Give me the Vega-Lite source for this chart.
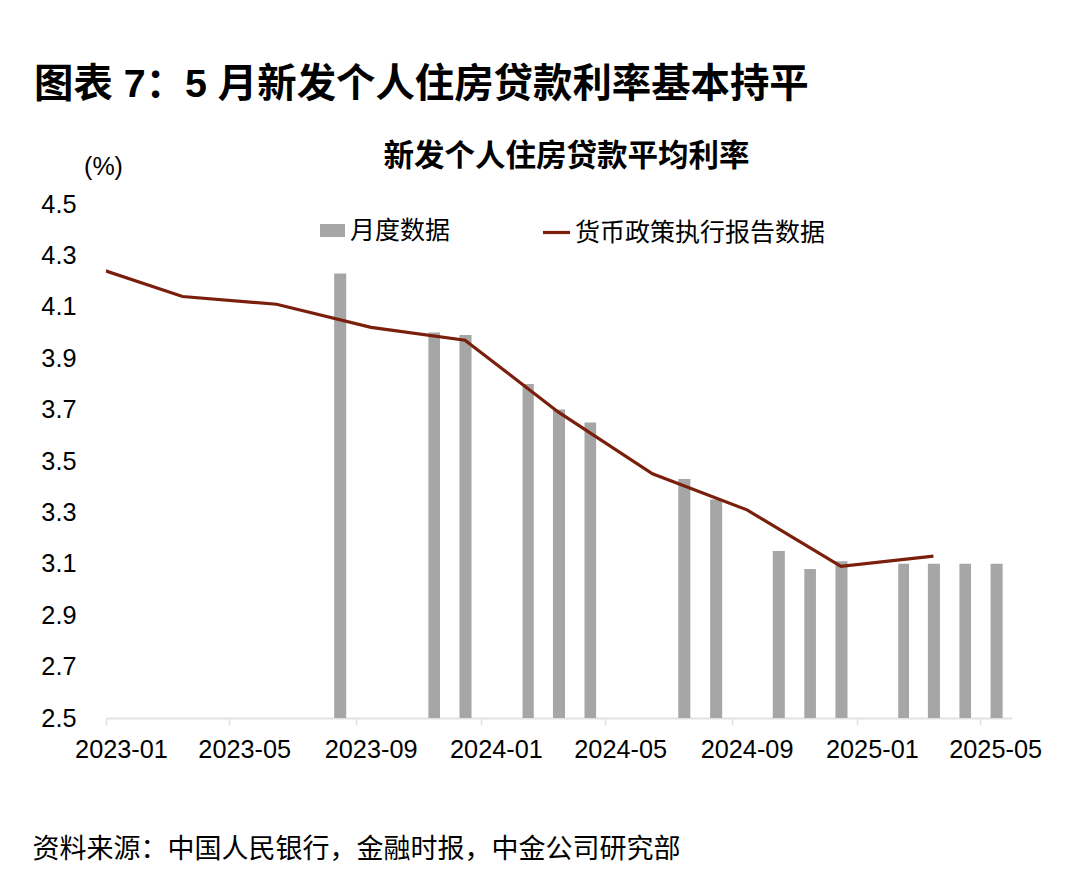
{
  "$schema": "https://vega.github.io/schema/vega-lite/v6.json",
  "width": 906,
  "height": 514,
  "autosize": "none",
  "padding": {"left": 106, "top": 204, "right": 68, "bottom": 153},
  "background": "white",
  "config": {"view": {"stroke": null}},
  "title": {
    "text": "图表 7：5 月新发个人住房贷款利率基本持平",
    "anchor": "start",
    "frame": "group",
    "dx": -72,
    "offset": 36,
    "font": "Liberation Sans, Noto Sans CJK SC",
    "fontSize": 39.4,
    "fontWeight": "bold",
    "color": "#000000"
  },
  "datasets": {
    "monthly": [
      {"month": "2023-08-01", "rate": 4.23, "series": "月度数据"},
      {"month": "2023-11-01", "rate": 4.0, "series": "月度数据"},
      {"month": "2023-12-01", "rate": 3.99, "series": "月度数据"},
      {"month": "2024-02-01", "rate": 3.8, "series": "月度数据"},
      {"month": "2024-03-01", "rate": 3.7, "series": "月度数据"},
      {"month": "2024-04-01", "rate": 3.65, "series": "月度数据"},
      {"month": "2024-07-01", "rate": 3.43, "series": "月度数据"},
      {"month": "2024-08-01", "rate": 3.35, "series": "月度数据"},
      {"month": "2024-10-01", "rate": 3.15, "series": "月度数据"},
      {"month": "2024-11-01", "rate": 3.08, "series": "月度数据"},
      {"month": "2024-12-01", "rate": 3.11, "series": "月度数据"},
      {"month": "2025-02-01", "rate": 3.1, "series": "月度数据"},
      {"month": "2025-03-01", "rate": 3.1, "series": "月度数据"},
      {"month": "2025-04-01", "rate": 3.1, "series": "月度数据"},
      {"month": "2025-05-01", "rate": 3.1, "series": "月度数据"}
    ],
    "quarterly": [
      {"month": "2022-12-01", "rate": 4.26, "series": "货币政策执行报告数据"},
      {"month": "2023-03-01", "rate": 4.14, "series": "货币政策执行报告数据"},
      {"month": "2023-06-01", "rate": 4.11, "series": "货币政策执行报告数据"},
      {"month": "2023-09-01", "rate": 4.02, "series": "货币政策执行报告数据"},
      {"month": "2023-12-01", "rate": 3.97, "series": "货币政策执行报告数据"},
      {"month": "2024-03-01", "rate": 3.69, "series": "货币政策执行报告数据"},
      {"month": "2024-06-01", "rate": 3.45, "series": "货币政策执行报告数据"},
      {"month": "2024-09-01", "rate": 3.31, "series": "货币政策执行报告数据"},
      {"month": "2024-12-01", "rate": 3.09, "series": "货币政策执行报告数据"},
      {"month": "2025-03-01", "rate": 3.13, "series": "货币政策执行报告数据"}
    ]
  },
  "resolve": {"axis": {"x": "independent"}, "scale": {"x": "shared"}},
  "layer": [
    {
      "data": {"name": "monthly"},
      "mark": {"type": "bar", "width": {"band": 0.41}, "clip": true},
      "encoding": {
        "x": {
          "field": "month",
          "type": "temporal",
          "timeUnit": "yearmonth",
          "scale": {"domain": [{"year": 2023, "month": 1, "date": 1}, {"year": 2025, "month": 6, "date": 1}]},
          "axis": {
            "values": [
              {"year": 2023, "month": 1, "date": 1},
              {"year": 2023, "month": 5, "date": 1},
              {"year": 2023, "month": 9, "date": 1},
              {"year": 2024, "month": 1, "date": 1},
              {"year": 2024, "month": 5, "date": 1},
              {"year": 2024, "month": 9, "date": 1},
              {"year": 2025, "month": 1, "date": 1},
              {"year": 2025, "month": 5, "date": 1}
            ],
            "format": "%Y-%m",
            "grid": false,
            "domainColor": "#e2e2e2",
            "domainWidth": 2,
            "tickColor": "#e2e2e2",
            "tickWidth": 1.5,
            "tickSize": 7,
            "labelFont": "Liberation Sans",
            "labelFontSize": 25.3,
            "labelColor": "#000000",
            "labelPadding": 12,
            "labelOffset": 15,
            "labelOverlap": false,
            "labelFlush": false,
            "title": "资料来源：中国人民银行，金融时报，中金公司研究部",
            "titleFont": "Noto Sans CJK SC",
            "titleFontSize": 27,
            "titleFontWeight": "normal",
            "titleColor": "#000000",
            "titleAnchor": "start",
            "titleAlign": "left",
            "titleX": -74,
            "titleY": 118
          }
        },
        "y": {
          "field": "rate",
          "type": "quantitative",
          "scale": {"domain": [2.5, 4.5], "nice": false, "zero": false},
          "axis": {
            "values": [2.5, 2.7, 2.9, 3.1, 3.3, 3.5, 3.7, 3.9, 4.1, 4.3, 4.5],
            "format": ".1f",
            "grid": false,
            "domain": false,
            "ticks": false,
            "labelFont": "Liberation Sans",
            "labelFontSize": 25.3,
            "labelColor": "#000000",
            "labelPadding": 30,
            "title": "(%)",
            "titleFont": "Liberation Sans",
            "titleFontSize": 25,
            "titleFontWeight": "normal",
            "titleColor": "#000000",
            "titleAngle": 0,
            "titleAlign": "center",
            "titleBaseline": "middle",
            "titleX": -3,
            "titleY": -38
          }
        },
        "fill": {
          "field": "series",
          "type": "nominal",
          "scale": {"range": ["#a6a6a6"]},
          "legend": {
            "orient": "none",
            "legendX": 214,
            "legendY": 14,
            "title": null,
            "symbolType": "M-1,-0.52H1V0.52H-1Z",
            "symbolSize": 625,
            "symbolStrokeWidth": 0,
            "labelFont": "Noto Sans CJK SC",
            "labelFontSize": 25,
            "labelColor": "#000000",
            "labelLimit": 400,
            "labelOffset": 5
          }
        }
      }
    },
    {
      "data": {"name": "quarterly"},
      "mark": {"type": "line", "strokeWidth": 3.2, "clip": true},
      "encoding": {
        "x": {
          "field": "month",
          "type": "temporal",
          "timeUnit": "yearmonth",
          "bandPosition": 0.5,
          "axis": {
            "orient": "top",
            "domain": false,
            "ticks": false,
            "labels": false,
            "grid": false,
            "title": "新发个人住房贷款平均利率",
            "titleFont": "Noto Sans CJK SC",
            "titleFontSize": 30.5,
            "titleFontWeight": "bold",
            "titleColor": "#000000",
            "titleX": 460,
            "titleY": -48,
            "titleAlign": "center",
            "titleBaseline": "middle"
          }
        },
        "y": {"field": "rate", "type": "quantitative"},
        "stroke": {
          "field": "series",
          "type": "nominal",
          "scale": {"range": ["#7a1f0c"]},
          "legend": {
            "orient": "none",
            "legendX": 435,
            "legendY": 13,
            "title": null,
            "symbolType": "stroke",
            "symbolSize": 729,
            "symbolStrokeWidth": 3.2,
            "labelFont": "Noto Sans CJK SC",
            "labelFontSize": 25,
            "labelColor": "#000000",
            "labelLimit": 400,
            "labelOffset": 3
          }
        }
      }
    }
  ]
}
